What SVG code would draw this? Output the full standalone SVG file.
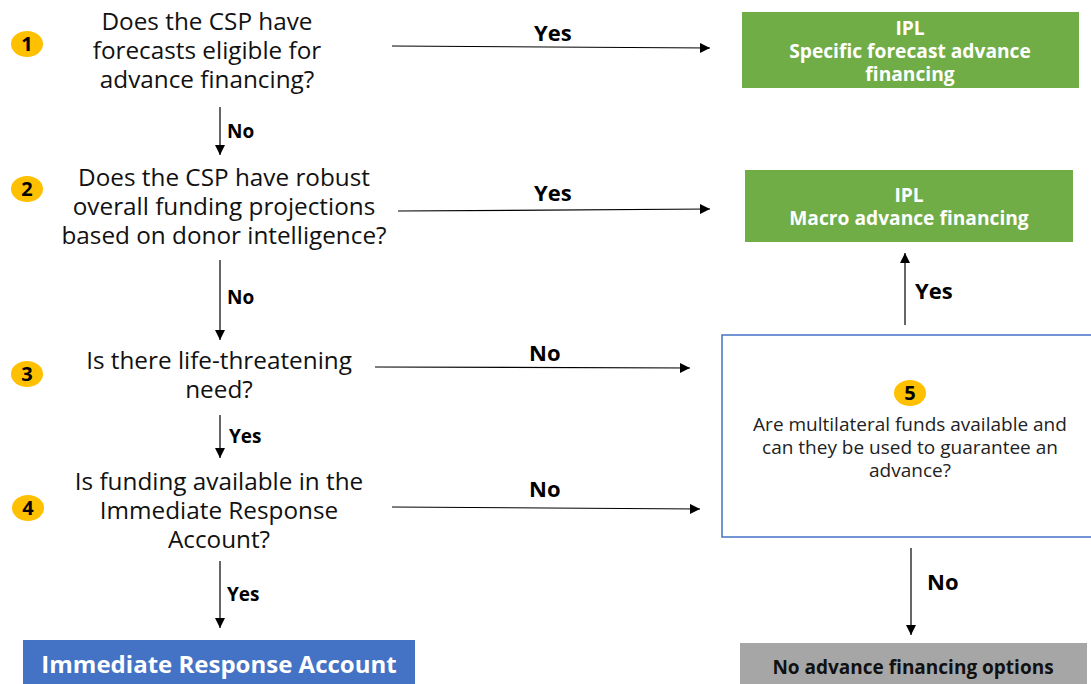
<svg xmlns="http://www.w3.org/2000/svg" width="1091" height="684" viewBox="0 0 1091 684">
<defs>
<marker id="ah" viewBox="0 0 10 10" refX="10" refY="5" markerWidth="10" markerHeight="10" markerUnits="userSpaceOnUse" orient="auto">
<path d="M0,0 L10,5 L0,10 Z" fill="#000"/>
</marker>
<style>
.q{font-family:"Open Sans","Liberation Sans",sans-serif;font-size:24.3px;fill:#111;text-anchor:middle}
.q5{font-family:"Open Sans","Liberation Sans",sans-serif;font-size:19px;fill:#222;text-anchor:middle}
.lbl{font-family:"Open Sans","Liberation Sans",sans-serif;font-size:19px;font-weight:bold;fill:#000}
.lblL{font-family:"Open Sans","Liberation Sans",sans-serif;font-size:22px;font-weight:bold;fill:#000}
.badge{fill:#FFC000}
.bn{font-family:"Open Sans","Liberation Sans",sans-serif;font-size:20px;font-weight:bold;fill:#000;text-anchor:middle}
.wt{font-family:"Open Sans","Liberation Sans",sans-serif;font-size:19.2px;font-weight:bold;fill:#fff;text-anchor:middle}
.conn{stroke:#000;stroke-width:1.2;fill:none;marker-end:url(#ah)}
</style>
</defs>
<rect width="1091" height="684" fill="#fff"/>

<g id="q1">
<ellipse class="badge" cx="27" cy="44" rx="16" ry="13"/>
<text class="bn" x="27" y="51">1</text>
<text class="q" x="207" y="30">Does the CSP have</text>
<text class="q" x="207" y="59">forecasts eligible for</text>
<text class="q" x="207" y="88">advance financing?</text>
</g>

<g id="q2">
<ellipse class="badge" cx="27" cy="189" rx="16" ry="13"/>
<text class="bn" x="27" y="196">2</text>
<text class="q" x="224" y="186">Does the CSP have robust</text>
<text class="q" x="224" y="215">overall funding projections</text>
<text class="q" x="224" y="244">based on donor intelligence?</text>
</g>

<g id="q3">
<ellipse class="badge" cx="27" cy="374" rx="16" ry="13"/>
<text class="bn" x="27" y="381">3</text>
<text class="q" x="219" y="369">Is there life-threatening</text>
<text class="q" x="219" y="398">need?</text>
</g>

<g id="q4">
<ellipse class="badge" cx="28" cy="508" rx="16" ry="13"/>
<text class="bn" x="28" y="515">4</text>
<text class="q" x="219" y="490">Is funding available in the</text>
<text class="q" x="219" y="519">Immediate Response</text>
<text class="q" x="219" y="548">Account?</text>
</g>

<g id="ipl1">
<rect x="742" y="12" width="337" height="76" fill="#70AD47"/>
<text class="wt" x="910" y="35">IPL</text>
<text class="wt" x="910" y="58">Specific forecast advance</text>
<text class="wt" x="910" y="81">financing</text>
</g>

<g id="ipl2">
<rect x="745" y="170" width="328" height="72" fill="#70AD47"/>
<text class="wt" x="909" y="202">IPL</text>
<text class="wt" x="909" y="225">Macro advance financing</text>
</g>

<g id="q5">
<rect x="722" y="335" width="372" height="202" fill="#fff" stroke="#4472C4" stroke-width="1.5"/>
<ellipse class="badge" cx="910" cy="393" rx="16" ry="13"/>
<text class="bn" x="910" y="400">5</text>
<text class="q5" x="910" y="431">Are multilateral funds available and</text>
<text class="q5" x="910" y="454">can they be used to guarantee an</text>
<text class="q5" x="910" y="477">advance?</text>
</g>

<g id="ira">
<rect x="23" y="640" width="392" height="46" fill="#4472C4"/>
<text class="wt" x="219" y="673" style="font-size:24px">Immediate Response Account</text>
</g>

<g id="none">
<rect x="740" y="643" width="347" height="43" fill="#A6A6A6"/>
<text class="wt" x="913" y="674" style="fill:#111;font-size:19px">No advance financing options</text>
</g>

<g id="connectors">
<line class="conn" x1="392" y1="46" x2="710" y2="48"/>
<text class="lblL" x="534" y="41">Yes</text>
<line class="conn" x1="220" y1="107" x2="220" y2="155"/>
<text class="lbl" x="227" y="138">No</text>
<line class="conn" x1="398" y1="211" x2="710" y2="209"/>
<text class="lblL" x="534" y="201">Yes</text>
<line class="conn" x1="220" y1="260" x2="220" y2="340"/>
<text class="lbl" x="227" y="304">No</text>
<line class="conn" x1="375" y1="367" x2="690" y2="368"/>
<text class="lblL" x="529" y="361">No</text>
<line class="conn" x1="220" y1="415" x2="220" y2="458"/>
<text class="lbl" x="229" y="443">Yes</text>
<line class="conn" x1="392" y1="507" x2="700" y2="509"/>
<text class="lblL" x="529" y="497">No</text>
<line class="conn" x1="220" y1="561" x2="220" y2="628"/>
<text class="lbl" x="227" y="601">Yes</text>
<line class="conn" x1="905" y1="325" x2="905" y2="253"/>
<text class="lblL" x="915" y="299">Yes</text>
<line class="conn" x1="911" y1="548" x2="911" y2="635"/>
<text class="lblL" x="927" y="590">No</text>
</g>
</svg>
